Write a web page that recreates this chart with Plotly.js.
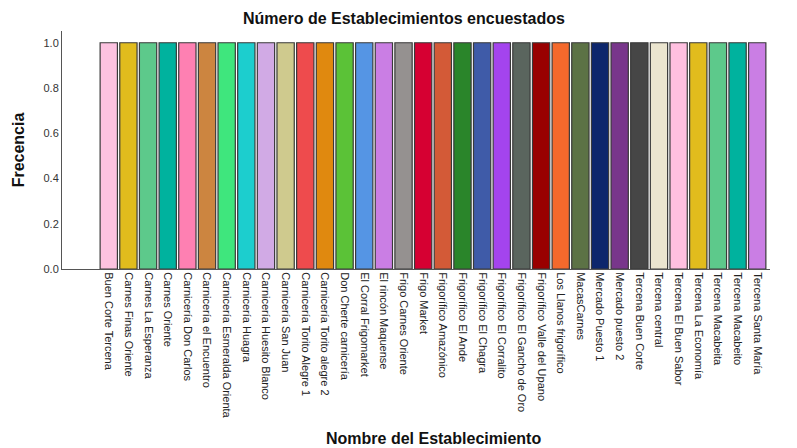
<!DOCTYPE html>
<html>
<head>
<meta charset="utf-8">
<script src="https://cdn.plot.ly/plotly-3.0.1.min.js"></script>
<style>html,body{margin:0;padding:0;background:#fff;}#chart{width:797px;height:448px;}</style>
</head>
<body>
<div id="chart"></div>
<script>
const categories = [
  "Buen Corte Tercena", "Carnes Finas Oriente", "Carnes La Esperanza", "Carnes Oriente",
  "Carnicería Don Carlos", "Carnicería el Encuentro", "Carnicería Esmeralda Orienta",
  "Carnicería Huagra", "Carnicería Huesito Blanco", "Carnicería San Juan",
  "Carnicería Torito Alegre 1", "Carnicería Torito alegre 2", "Don Cherte carnicería",
  "El Corral Frigomarket", "El rincón Maquense", "Frigo Carnes Oriente", "Frigo Market",
  "Frigorífico Amazónico", "Frigorífico El Ande", "Frigorífico El Chagra",
  "Frigorífico El Corralito", "Frigorífico El Gancho de Oro", "Frigorífico Valle del Upano",
  "Los Llanos frigorífico", "MacasCarnes", "Mercado Puesto 1", "Mercado puesto 2",
  "Tercena Buen Corte", "Tercena central", "Tercena El Buen Sabor", "Tercena La Economía",
  "Tercena Macabeita", "Tercena Macabeito", "Tercena Santa María"
];
const frecuencia = [1,1,1,1,1,1,1,1,1,1,1,1,1,1,1,1,1,1,1,1,1,1,1,1,1,1,1,1,1,1,1,1,1,1];
const barColors = [
  "#fdc2e0", "#e1bc1d", "#5dc98b", "#00b29e", "#fe80b2", "#cc8540", "#3fe67d",
  "#1ccece", "#d1aae5", "#cfca8e", "#ee4b4d", "#e0890f", "#5bc237", "#5595e4",
  "#ca7ee4", "#959190", "#d60032", "#d35a37", "#2a852a", "#3f5ba8", "#a444ee",
  "#5a655e", "#990000", "#f4692c", "#5c7245", "#0d266c", "#78368b", "#464646",
  "#ebe5cf", "#ffc0e0", "#e1bc1d", "#5dc98b", "#00b29e", "#ca7ee4"
];
const yTicks = [0, 0.2, 0.4, 0.6, 0.8, 1.0];
const yTickLabels = ["0.0", "0.2", "0.4", "0.6", "0.8", "1.0"];

const trace = {
  type: "bar",
  x: categories,
  y: frecuencia,
  marker: { color: barColors, line: { color: "#3a3a3a", width: 1.2 } },
  hoverinfo: "x+y"
};

const layout = {
  width: 797, height: 448,
  margin: { l: 62, r: 27, t: 31, b: 179 },
  paper_bgcolor: "#ffffff", plot_bgcolor: "#ffffff",
  font: { family: "Liberation Sans, Arial, sans-serif", color: "#222" },
  title: {
    text: "<b>Número de Establecimientos encuestados</b>",
    font: { size: 16, color: "#111", family: "Liberation Sans, Arial, sans-serif" },
    xref: "paper", x: 0.483, xanchor: "center",
    yref: "container", y: 0.958, yanchor: "middle"
  },
  bargap: 0.12,
  showlegend: false,
  xaxis: {
    type: "category",
    range: [-2.38, 33.65],
    tickangle: 90,
    tickfont: { size: 11, color: "#222" },
    showline: true, linecolor: "#555", linewidth: 1,
    showgrid: false, zeroline: false, ticks: "",
    fixedrange: true
  },
  yaxis: {
    range: [0, 1.052],
    tickvals: yTicks, ticktext: yTickLabels,
    tickfont: { size: 11, color: "#333" },
    showline: true, linecolor: "#555", linewidth: 1,
    showgrid: false, zeroline: false, ticks: "",
    title: { text: "<b>Frecencia</b>", font: { size: 16, color: "#111" }, standoff: 14 },
    fixedrange: true
  },
  annotations: [{
    text: "<b>Nombre del Establecimiento</b>",
    xref: "paper", yref: "paper",
    x: (433 - 62) / 708, y: -(438 - 269) / 238,
    xanchor: "center", yanchor: "middle",
    showarrow: false,
    font: { size: 16, color: "#111", family: "Liberation Sans, Arial, sans-serif" }
  }]
};

Plotly.newPlot("chart", [trace], layout, { displayModeBar: false, staticPlot: true });
</script>
</body>
</html>
